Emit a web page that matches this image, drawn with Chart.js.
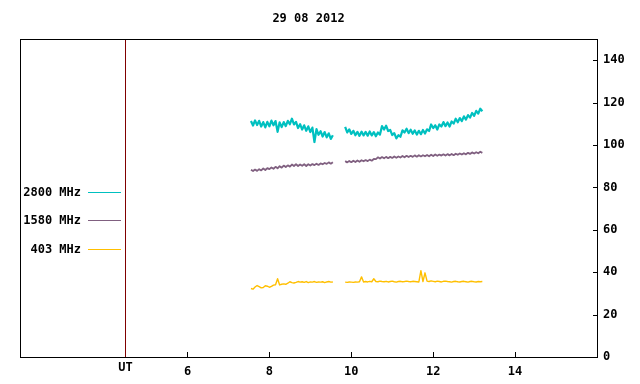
<!DOCTYPE html>
<html>
<head>
<meta charset="utf-8">
<script src="https://cdn.jsdelivr.net/npm/chart.js@4.4.0/dist/chart.umd.min.js"></script>
<style>
    body { margin: 0; background: #fff; }
</style>
</head>
<body>
<canvas id="radio-flux" width="640" height="384"></canvas>
<script>
'use strict';

//TEXTS AND TICKS
const titleText = '29 08 2012';
const bandLabels = ['2800 MHz', '1580 MHz', '403 MHz'];
const bandColors = ['#00c0c0', '#806080', '#ffbf00'];
const bandWidths = [2.2, 1.8, 1.4];
const hourTicks = [6, 8, 10, 12, 14];
const fluxTicks = [0, 20, 40, 60, 80, 100, 120, 140];
const utHour = 4.47;

//SAMPLE TIMES (hours UT), one value every 3 minutes
const morningStart = 7.55;
const afternoonStart = 9.85;
const sampleStep = 0.05;

//2800 MHz
const flux2800Morning = [
    111.3, 109.2, 111.6, 109.4, 111.4, 108.7, 110.8, 108.3, 110.9, 108.8,
    111.5, 109.3, 111.3, 106.2, 110.7, 108.4, 110.8, 108.9, 111.4, 109.8,
    112.4, 109.7, 110.9, 108.0, 109.8, 107.3, 109.3, 106.7, 108.8, 106.1,
    108.2, 101.4, 107.5, 104.8, 106.5, 104.0, 106.1, 103.6, 105.5, 102.9,
    104.6];
const flux2800Afternoon = [
    108.6, 105.9, 107.4, 105.2, 106.7, 104.6, 106.2, 104.3, 106.3, 104.5,
    106.2, 104.4, 106.4, 104.5, 106.1, 104.1, 105.9, 104.9, 108.9, 107.3,
    109.1, 106.6, 107.1, 104.7, 105.6, 103.1, 104.6, 103.9, 106.9, 105.9,
    107.7, 105.6, 107.2, 105.3, 106.9, 104.9, 106.7, 105.1, 107.1, 105.4,
    107.4, 106.6, 109.7, 108.0, 109.3, 107.3, 109.7, 108.7, 110.8, 108.9,
    110.6, 108.7, 111.1, 110.1, 112.4, 110.7, 112.7, 111.3, 113.5, 112.0,
    114.1, 112.9, 115.1, 113.7, 116.1, 114.8, 117.1, 115.9];

//1580 MHz
const flux1580Morning = [
    88.3, 87.7, 88.4, 87.8, 88.6, 88.0, 88.9, 88.2, 89.1, 88.6,
    89.4, 88.8, 89.7, 89.0, 90.0, 89.3, 90.3, 89.6, 90.4, 89.8,
    90.8, 90.1, 90.9, 90.1, 90.8, 90.2, 90.9, 90.1, 90.9, 90.3,
    91.0, 90.5, 91.2, 90.6, 91.3, 90.9, 91.5, 91.1, 91.8, 91.2,
    91.9];
const flux1580Afternoon = [
    92.4, 91.8, 92.5, 91.9, 92.6, 92.0, 92.7, 92.1, 92.8, 92.3,
    92.9, 92.4, 93.1, 92.6, 93.4, 93.3, 94.2, 93.6, 94.3, 93.7,
    94.4, 93.8, 94.4, 93.9, 94.6, 94.0, 94.6, 94.1, 94.8, 94.2,
    94.9, 94.3, 94.9, 94.4, 95.1, 94.5, 95.2, 94.6, 95.2, 94.7,
    95.3, 94.7, 95.4, 94.8, 95.5, 94.9, 95.5, 95.0, 95.6, 95.0,
    95.7, 95.1, 95.8, 95.2, 95.9, 95.4, 96.0, 95.5, 96.1, 95.6,
    96.3, 95.8, 96.5, 96.0, 96.6, 96.1, 96.8, 96.3];

//403 MHz
const flux403Morning = [
    32.3, 32.0, 33.0, 33.7, 33.2, 32.6, 32.8, 33.6, 33.4, 32.9,
    33.3, 33.9, 34.1, 36.9, 34.0, 34.3, 34.5, 34.3, 34.8, 35.5,
    35.1, 34.9, 35.2, 35.6, 35.3, 35.5, 35.2, 35.6, 35.1, 35.4,
    35.3, 35.6, 35.2, 35.4, 35.3, 35.5, 35.1, 35.4, 35.6, 35.3,
    35.4];
const flux403Afternoon = [
    35.3, 35.2, 35.4, 35.3, 35.2, 35.4, 35.3, 35.5, 37.8, 35.4,
    35.6, 35.4, 35.7, 35.5, 36.9, 35.6, 35.5, 35.8, 35.6, 35.5,
    35.7, 35.4, 35.6, 35.8, 35.5, 35.3, 35.6, 35.7, 35.5, 35.6,
    35.8, 35.6, 35.5, 35.7, 35.6, 35.5, 35.4, 40.7, 35.6, 39.7,
    35.8, 35.6, 35.9, 35.7, 35.5, 35.8, 35.6, 35.4, 35.7, 35.8,
    35.6, 35.5, 35.3, 35.6, 35.7, 35.5, 35.4, 35.6, 35.7, 35.5,
    35.3, 35.6, 35.7, 35.5, 35.4, 35.6, 35.5, 35.6];

const monoFont = {family: '"DejaVu Sans Mono", "Liberation Mono", monospace', size: 12, weight: 'bold'};

//JOIN THE TWO OBSERVING RUNS, A NULL IN BETWEEN KEEPS THE GAP
function toPoints(morning, afternoon) {
    let points = [];
    morning.forEach(function (value, i) {
        points.push({x: morningStart + i * sampleStep, y: value});
    });
    points.push({x: (morningStart + (morning.length - 1) * sampleStep + afternoonStart) / 2, y: null});
    afternoon.forEach(function (value, i) {
        points.push({x: afternoonStart + i * sampleStep, y: value});
    });
    return points;
}

let seriesData = [
    toPoints(flux2800Morning, flux2800Afternoon),
    toPoints(flux1580Morning, flux1580Afternoon),
    toPoints(flux403Morning, flux403Afternoon)
];

//TITLE, FRAME, INWARD TICKS, UT LINE AND THE KEY ON THE LEFT
const gnuplotLook = {
    id: 'gnuplotLook',
    afterDraw: function (chart) {
        let ctx = chart.ctx;
        let area = chart.chartArea;
        let xs = chart.scales.x;
        let ys = chart.scales.y;
        ctx.save();
        ctx.lineWidth = 1;

        //UT marker
        let utX = Math.round(xs.getPixelForValue(utHour)) + 0.5;
        ctx.strokeStyle = '#800000';
        ctx.beginPath();
        ctx.moveTo(utX, area.top);
        ctx.lineTo(utX, area.bottom);
        ctx.stroke();

        ctx.strokeStyle = '#000';
        ctx.strokeRect(Math.round(area.left) + 0.5, Math.round(area.top) + 0.5,
            Math.round(area.right - area.left), Math.round(area.bottom - area.top));

        ctx.beginPath();
        hourTicks.forEach(function (h) {
            let px = Math.round(xs.getPixelForValue(h)) + 0.5;
            ctx.moveTo(px, area.bottom);
            ctx.lineTo(px, area.bottom - 5);
        });
        fluxTicks.forEach(function (f) {
            let py = Math.round(ys.getPixelForValue(f)) + 0.5;
            ctx.moveTo(area.right, py);
            ctx.lineTo(area.right - 4, py);
        });
        ctx.stroke();

        ctx.font = 'bold 12px ' + monoFont.family;
        ctx.fillStyle = '#000';
        ctx.textAlign = 'center';
        ctx.textBaseline = 'middle';
        ctx.fillText(titleText, (area.left + area.right) / 2, 19);
        ctx.fillText('UT', utX, area.bottom + 11);

        //key
        chart.data.datasets.forEach(function (ds, i) {
            let rowY = 191.5 + i * 28.5;
            ctx.textAlign = 'right';
            ctx.fillStyle = '#000';
            ctx.fillText(ds.label, 81, rowY + 1);
            ctx.strokeStyle = ds.borderColor;
            ctx.beginPath();
            ctx.moveTo(88, Math.round(rowY) + 0.5);
            ctx.lineTo(121, Math.round(rowY) + 0.5);
            ctx.stroke();
        });
        ctx.restore();
    }
};

new Chart(document.getElementById('radio-flux'), {
    type: 'line',
    data: {
        datasets: bandLabels.map(function (label, i) {
            return {
                label: label,
                data: seriesData[i],
                borderColor: bandColors[i],
                backgroundColor: bandColors[i],
                borderWidth: bandWidths[i],
                borderJoinStyle: 'round',
                pointRadius: 0,
                tension: 0,
                spanGaps: false,
                fill: false
            };
        })
    },
    options: {
        responsive: false,
        animation: false,
        events: [],
        layout: {padding: {left: 20, right: 0, top: 39, bottom: 0}},
        plugins: {
            legend: {display: false},
            tooltip: {enabled: false},
            title: {display: false}
        },
        scales: {
            x: {
                type: 'linear',
                min: 1.91,
                max: 16,
                afterBuildTicks: function (scale) {
                    scale.ticks = hourTicks.map(function (v) { return {value: v}; });
                },
                afterFit: function (scale) { scale.height = 27; },
                grid: {display: false, drawTicks: false},
                border: {display: false},
                ticks: {color: '#000', font: monoFont, padding: 8, maxRotation: 0, autoSkip: false}
            },
            y: {
                position: 'right',
                min: 0,
                max: 150,
                afterBuildTicks: function (scale) {
                    scale.ticks = fluxTicks.map(function (v) { return {value: v}; });
                },
                afterFit: function (scale) { scale.width = 43; },
                grid: {display: false, drawTicks: false},
                border: {display: false},
                ticks: {color: '#000', font: monoFont, padding: 6, autoSkip: false}
            }
        }
    },
    plugins: [gnuplotLook]
});
</script>
</body>
</html>
